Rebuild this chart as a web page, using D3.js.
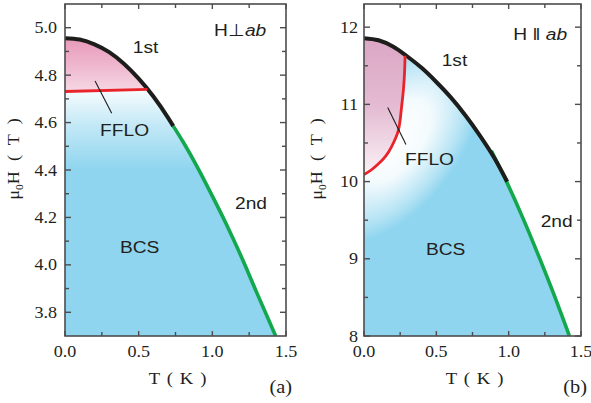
<!DOCTYPE html>
<html>
<head>
<meta charset="utf-8">
<script src="https://cdn.jsdelivr.net/npm/d3@7"></script>
<style>
  body { margin: 0; background: white; }
</style>
</head>
<body>
<script>

// temperature axis, shared by both panels
const tempTicks = [0, 0.5, 1.0, 1.5]
const tempMinorTicks = [0.25, 0.75, 1.25]

// panel (a): H perpendicular to ab
const perpFieldTicks = [3.8, 4.0, 4.2, 4.4, 4.6, 4.8, 5.0]
const perpFieldMinor = [3.9, 4.1, 4.3, 4.5, 4.7, 4.9]
const perpFirstT = [0, 0.1, 0.2, 0.3, 0.4, 0.5, 0.6, 0.7, 0.735]
const perpFirstH = [4.956, 4.950, 4.930, 4.897, 4.848, 4.785, 4.710, 4.620, 4.585]
const perpSecondT = [0.735, 0.8, 0.9, 1.0, 1.1, 1.2, 1.3, 1.43]
const perpSecondH = [4.585, 4.52, 4.41, 4.29, 4.165, 4.03, 3.885, 3.70]
const perpFfloT = [0, 0.56]
const perpFfloH = [4.731, 4.740]

// panel (b): H parallel to ab
const paraFieldTicks = [8, 9, 10, 11, 12]
const paraFieldMinor = [8.5, 9.5, 10.5, 11.5]
const paraFirstT = [0, 0.1, 0.2, 0.3, 0.4, 0.5, 0.6, 0.7, 0.8, 0.9, 0.99]
const paraFirstH = [11.857, 11.83, 11.75, 11.62, 11.47, 11.29, 11.09, 10.86, 10.60, 10.31, 10.0]
const paraSecondT = [0.88, 0.99, 1.1, 1.2, 1.3, 1.42]
const paraSecondH = [10.40, 9.98, 9.52, 9.07, 8.6, 8.0]
const paraFfloT = [0, 0.05, 0.1, 0.15, 0.19, 0.237, 0.26, 0.272, 0.28, 0.284]
const paraFfloH = [10.09, 10.15, 10.23, 10.33, 10.45, 10.66, 10.97, 11.18, 11.4, 11.63]

const blue = "#8fd5ef"
const textColor = "#231f20"
const serif = "Liberation Serif, Times New Roman, Times, serif"
const sans = "Liberation Sans, Arial, Helvetica, sans-serif"

const svg = d3.select("body").append("svg")
    .attr("width", 591)
    .attr("height", 403)
    .style("background", "white")

const defs = svg.append("defs")

function pairs(ts, hs) {
    return ts.map((t, i) => [t, hs[i]])
}

// text drawn slightly wider than tall, like the scanned figure
function addText(g, x, y, size, family, anchor, str) {
    const t = g.append("text")
        .attr("transform", "translate(" + x + "," + y + ") scale(1.13,1)")
        .attr("text-anchor", anchor)
        .style("font-family", family)
        .style("font-size", size + "px")
        .style("fill", textColor)
    if (str !== undefined) t.text(str)
    return t
}

function drawPanel(p) {
    const x = d3.scaleLinear().domain([0, 1.5]).range([p.left, p.right])
    const y = d3.scaleLinear().domain(p.fieldDomain).range([p.bottom, p.top])
    const g = svg.append("g")

    const first = pairs(p.firstT, p.firstH)
    const second = pairs(p.secondT, p.secondH)
    const lastFirstT = p.firstT[p.firstT.length - 1]
    const hc2 = first.concat(second.filter(d => d[0] > lastFirstT))
    const ffl = pairs(p.ffloT, p.ffloH)

    // clip paths: plot frame and superconducting region
    defs.append("clipPath").attr("id", p.id + "Frame")
        .append("rect")
        .attr("x", p.left).attr("y", p.top)
        .attr("width", p.right - p.left).attr("height", p.bottom - p.top)

    const under = d3.area()
        .x(d => x(d[0]))
        .y0(p.bottom)
        .y1(d => y(d[1]))
        .curve(d3.curveMonotoneX)

    defs.append("clipPath").attr("id", p.id + "Under")
        .append("path")
        .attr("d", under(hc2))

    const inner = g.append("g").attr("clip-path", "url(#" + p.id + "Frame)")
    const sc = inner.append("g").attr("clip-path", "url(#" + p.id + "Under)")

    sc.append("rect")
        .attr("x", p.left).attr("y", p.top)
        .attr("width", p.right - p.left).attr("height", p.bottom - p.top)
        .style("fill", blue)

    // white fade into the BCS region
    let fg
    if (p.fade.type === "linear") {
        fg = defs.append("linearGradient")
            .attr("id", p.id + "Fade")
            .attr("gradientUnits", "userSpaceOnUse")
            .attr("x1", x(p.fade.from[0])).attr("y1", y(p.fade.from[1]))
            .attr("x2", x(p.fade.to[0])).attr("y2", y(p.fade.to[1]))
    } else {
        // elliptical glow, tilted along the FFLO boundary
        fg = defs.append("radialGradient")
            .attr("id", p.id + "Fade")
            .attr("gradientUnits", "userSpaceOnUse")
            .attr("cx", 0).attr("cy", 0).attr("r", 1)
            .attr("gradientTransform", "translate(" + x(p.fade.center[0]) + "," + y(p.fade.center[1]) +
                ") rotate(" + p.fade.angle + ") scale(" + p.fade.radii[0] + "," + p.fade.radii[1] + ")")
    }
    p.fade.stops.forEach(s => {
        fg.append("stop")
            .attr("offset", s[0] + "%")
            .style("stop-color", "white")
            .style("stop-opacity", s[1])
    })
    sc.append("rect")
        .attr("x", p.left).attr("y", p.top)
        .attr("width", p.right - p.left).attr("height", p.bottom - p.top)
        .style("fill", "url(#" + p.id + "Fade)")

    // FFLO pocket
    const pg = defs.append("linearGradient")
        .attr("id", p.id + "Pink")
        .attr("gradientUnits", "userSpaceOnUse")
        .attr("x1", 0).attr("x2", 0)
        .attr("y1", y(p.firstH[0])).attr("y2", y(p.ffloH[0]))
    p.pinkStops.forEach((c, i) => {
        pg.append("stop")
            .attr("offset", (i / (p.pinkStops.length - 1) * 100) + "%")
            .style("stop-color", c)
    })

    const ffloLine = d3.line()
        .x(d => x(d[0]))
        .y(d => y(d[1]))
        .curve(d3.curveCatmullRom)

    const lastF = ffl[ffl.length - 1]
    sc.append("path")
        .attr("d", ffloLine(ffl) + "L" + x(lastF[0]) + "," + p.top + "L" + x(0) + "," + p.top + "Z")
        .style("fill", "url(#" + p.id + "Pink)")

    const hLine = d3.line()
        .x(d => x(d[0]))
        .y(d => y(d[1]))
        .curve(d3.curveMonotoneX)

    inner.append("path")
        .attr("d", hLine(second))
        .style("fill", "none")
        .style("stroke", "#12a84b")
        .style("stroke-width", 3.6)

    inner.append("path")
        .attr("d", hLine(first))
        .style("fill", "none")
        .style("stroke", "#1d1d1b")
        .style("stroke-width", 4)

    inner.append("path")
        .attr("d", ffloLine(ffl))
        .style("fill", "none")
        .style("stroke", "#e8232a")
        .style("stroke-width", 2.8)

    // leader line for FFLO label
    g.append("line")
        .attr("x1", x(p.leader[0])).attr("y1", y(p.leader[1]))
        .attr("x2", x(p.leader[2])).attr("y2", y(p.leader[3]))
        .style("stroke", "#1d1d1b")
        .style("stroke-width", 1.1)

    // frame
    g.append("rect")
        .attr("x", p.left).attr("y", p.top)
        .attr("width", p.right - p.left).attr("height", p.bottom - p.top)
        .style("fill", "none")
        .style("stroke", "#4d4d4f")
        .style("stroke-width", 1.6)

    const tickStyle = sel => sel.style("stroke", "#4d4d4f").style("stroke-width", 1.4)

    // temperature ticks, bottom and top, pointing inward
    tempTicks.concat(tempMinorTicks).forEach(t => {
        const len = tempTicks.includes(t) ? 5 : 4
        g.append("line").attr("x1", x(t)).attr("x2", x(t))
            .attr("y1", p.bottom).attr("y2", p.bottom - len).call(tickStyle)
        g.append("line").attr("x1", x(t)).attr("x2", x(t))
            .attr("y1", p.top).attr("y2", p.top + len).call(tickStyle)
    })
    p.fieldTicks.concat(p.fieldMinor).forEach(h => {
        const len = p.fieldTicks.includes(h) ? 6 : 4
        g.append("line").attr("y1", y(h)).attr("y2", y(h))
            .attr("x1", p.left).attr("x2", p.left + len).call(tickStyle)
        g.append("line").attr("y1", y(h)).attr("y2", y(h))
            .attr("x1", p.right).attr("x2", p.right - len).call(tickStyle)
    })

    // tick labels
    const tempFmt = d3.format(".1f")
    tempTicks.forEach(t => {
        addText(g, x(t), p.bottom + 21, 16, serif, "middle", tempFmt(t))
    })
    p.fieldTicks.forEach(h => {
        addText(g, p.left - p.labelGap, y(h) + 5.5, 16, serif, "end", p.fieldFmt(h))
    })

    // axis titles
    addText(g, (p.left + p.right) / 2 + 2, 384, 16.5, serif, "middle", "T ( K )")
        .style("word-spacing", "2px")
    addText(g, p.right + 6, 393, 18, serif, "end", p.tag)

    const yt = g.append("text")
        .attr("transform", "translate(" + p.yTitleX + ",159) rotate(-90) scale(1.13,1)")
        .attr("text-anchor", "middle")
        .style("font-family", serif)
        .style("font-size", "16px")
        .style("fill", textColor)
        .style("word-spacing", "5px")
    yt.append("tspan").text("μ")
    yt.append("tspan").attr("dy", 4).style("font-size", "10px").text("0")
    yt.append("tspan").attr("dy", -4).text("H ( T )")

    // region labels
    p.labels.forEach(l => {
        addText(g, x(l.t), y(l.h), 17, sans, "start", l.text)
    })

    const orient = addText(g, x(p.orient.t), y(p.orient.h), 17, sans, "start")
    orient.append("tspan").text(p.orient.sym)
    orient.append("tspan").style("font-style", "italic").text("ab")
}

drawPanel({
    id: "perp",
    left: 65, right: 286, top: 4, bottom: 336,
    fieldDomain: [3.7, 5.1],
    fieldTicks: perpFieldTicks,
    fieldMinor: perpFieldMinor,
    fieldFmt: d3.format(".1f"),
    labelGap: 8,
    firstT: perpFirstT, firstH: perpFirstH,
    secondT: perpSecondT, secondH: perpSecondH,
    ffloT: perpFfloT, ffloH: perpFfloH,
    fade: {
        type: "linear", from: [0, 4.735], to: [0, 4.40],
        stops: [[0, 0.92], [45, 0.45], [100, 0]]
    },
    pinkStops: ["#e899ba", "#eeb6cd", "#f6d8e4"],
    leader: [0.204, 4.775, 0.317, 4.639],
    labels: [
        { text: "1st", t: 0.46, h: 4.895 },
        { text: "FFLO", t: 0.238, h: 4.543 },
        { text: "BCS", t: 0.373, h: 4.05 },
        { text: "2nd", t: 1.154, h: 4.234 }
    ],
    orient: { sym: "H\u22A5", t: 1.012, h: 4.966 },
    tag: "(a)",
    yTitleX: 19
})

drawPanel({
    id: "para",
    left: 364, right: 581, top: 4, bottom: 336,
    fieldDomain: [8, 12.3],
    fieldTicks: paraFieldTicks,
    fieldMinor: paraFieldMinor,
    fieldFmt: d3.format("d"),
    labelGap: 6,
    firstT: paraFirstT, firstH: paraFirstH,
    secondT: paraSecondT, secondH: paraSecondH,
    ffloT: paraFfloT, ffloH: paraFfloH,
    fade: {
        type: "radial", center: [0.214, 10.53], angle: -53, radii: [118, 65],
        stops: [[0, 1], [40, 0.9], [80, 0.35], [100, 0]]
    },
    pinkStops: ["#dba6c4", "#e4bbd2", "#fbf1f6"],
    leader: [0.164, 10.96, 0.290, 10.48],
    labels: [
        { text: "1st", t: 0.537, h: 11.497 },
        { text: "FFLO", t: 0.283, h: 10.21 },
        { text: "BCS", t: 0.428, h: 9.05 },
        { text: "2nd", t: 1.221, h: 9.41 }
    ],
    orient: { sym: "H \u2016 ", t: 1.032, h: 11.84 },
    tag: "(b)",
    yTitleX: 322
})

</script>
</body>
</html>
